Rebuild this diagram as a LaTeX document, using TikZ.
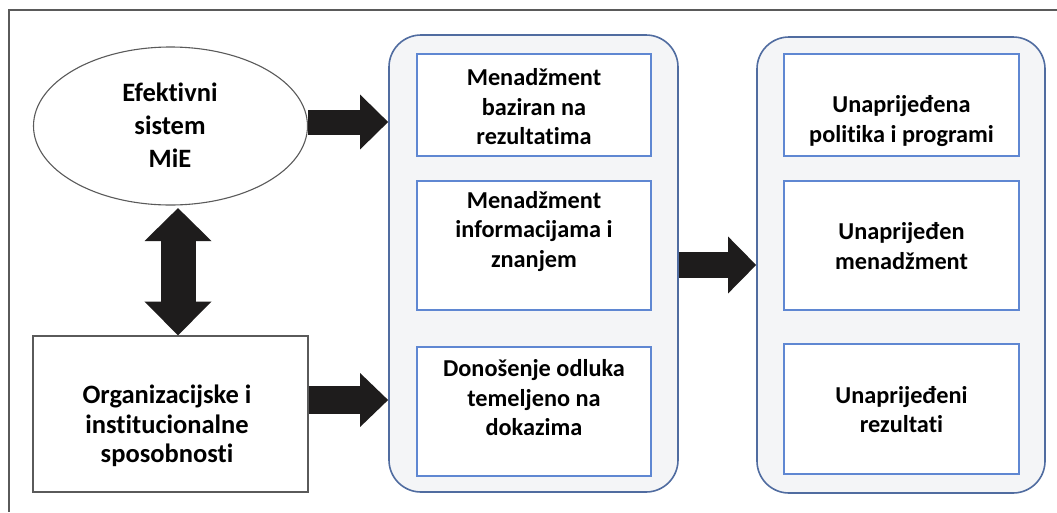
\documentclass[tikz,border=0pt]{standalone}
\usepackage{fontspec}
\setmainfont[Ligatures=NoCommon]{Carlito}
\usetikzlibrary{arrows.meta,shapes.geometric}
\definecolor{contborder}{RGB}{80,108,160}
\definecolor{contfill}{RGB}{244,245,247}
\definecolor{boxborder}{RGB}{95,135,210}
\definecolor{frameline}{RGB}{90,90,90}
\definecolor{arrowfill}{RGB}{30,28,28}
\tikzset{
  container/.style={draw=contborder, line width=1.6pt, fill=contfill, rounded corners=32pt, inner sep=0pt},
  innerbox/.style={draw=boxborder, line width=1.2pt, fill=white, inner sep=0pt},
  lbl/.style={font=\bfseries\fontsize{24.3}{29.5}\selectfont, align=center, text=black, inner sep=0pt},
  biglbl/.style={font=\bfseries\fontsize{26.5}{29.5}\selectfont, align=center, text=black, inner sep=0pt},
  fatarrow/.style={draw=arrowfill, line width=#1},
}
\begin{document}
\begin{tikzpicture}[x=1pt,y=-1pt]
\useasboundingbox (0,0) rectangle (1057,512);
\fill[white] (0,0) rectangle (1057,512);
% outer frame (only top and left visible)
\coordinate (ftr) at (1057,10);
\coordinate (ftl) at (9,10);
\coordinate (fbl) at (9,512);
\draw[frameline, line width=1.3pt] (ftr) -- (ftl) -- (fbl);

% containers
\node[container, minimum width=289pt, minimum height=457pt] (midc) at (533.5,263.5) {};
\node[container, minimum width=288pt, minimum height=456pt] (rightc) at (901,265) {};

% middle inner boxes
\node[innerbox, minimum width=234pt, minimum height=102pt] (m1) at (534,105) {};
\node[innerbox, minimum width=234pt, minimum height=129pt] (m2) at (534,245.5) {};
\node[innerbox, minimum width=234pt, minimum height=129pt] (m3) at (534,411.5) {};
% right inner boxes
\node[innerbox, minimum width=235pt, minimum height=102pt] (r1) at (901.5,105) {};
\node[innerbox, minimum width=235pt, minimum height=129pt] (r2) at (901.5,245.5) {};
\node[innerbox, minimum width=235pt, minimum height=130pt] (r3) at (901.5,409) {};

% left shapes
\node[ellipse, draw=frameline, line width=1.1pt, fill=white, minimum width=274pt, minimum height=158pt, inner sep=0pt] (ell) at (170.5,126) {};
\node[draw=frameline, line width=1.4pt, fill=white, minimum width=275pt, minimum height=156pt, inner sep=0pt] (org) at (170.5,414) {};

% texts
\node[biglbl, font=\bfseries\fontsize{26.5}{33}\selectfont] (tell) at (170,125) {Efektivni\\sistem\\MiE};
\node[biglbl] (torg) at (167,426) {Organizacijske i\\institucionalne\\sposobnosti};
\node[lbl] (tm1) at (534,107) {Menadžment\\baziran na\\rezultatima};
\node[lbl] (tm2) at (534,231.5) {Menadžment\\informacijama i\\znanjem};
\node[lbl] (tm3) at (534,398) {Donošenje odluka\\temeljeno na\\dokazima};
\node[lbl] (tr1) at (901.5,121) {Unaprijeđena\\politika i programi};
\node[lbl] (tr2) at (901.5,246) {Unaprijeđen\\menadžment};
\node[lbl] (tr3) at (901.5,409.5) {Unaprijeđeni\\rezultati};

% arrows
\coordinate (a1s) at (ell.east |- 0,122);
\coordinate (a1e) at (midc.west |- 0,122);
\draw[fatarrow=25pt, -{Triangle[width=53pt,length=28pt]}] (a1s) -- (a1e);
\coordinate (a2s) at (org.east |- 0,400);
\coordinate (a2e) at (midc.west |- 0,400);
\draw[fatarrow=28pt, -{Triangle[width=52pt,length=28pt]}] (a2s) -- (a2e);
\coordinate (a3s) at (midc.east |- 0,265);
\coordinate (a3e) at (rightc.west |- 0,265);
\draw[fatarrow=26pt, -{Triangle[width=55pt,length=28pt]}] (a3s) -- (a3e);
\coordinate (a4s) at (178,208);
\coordinate (a4e) at (178,335.5);
\draw[fatarrow=35pt, {Triangle[width=65pt,length=33pt]}-{Triangle[width=65pt,length=34pt]}] (a4s) -- (a4e);
\end{tikzpicture}
\end{document}
